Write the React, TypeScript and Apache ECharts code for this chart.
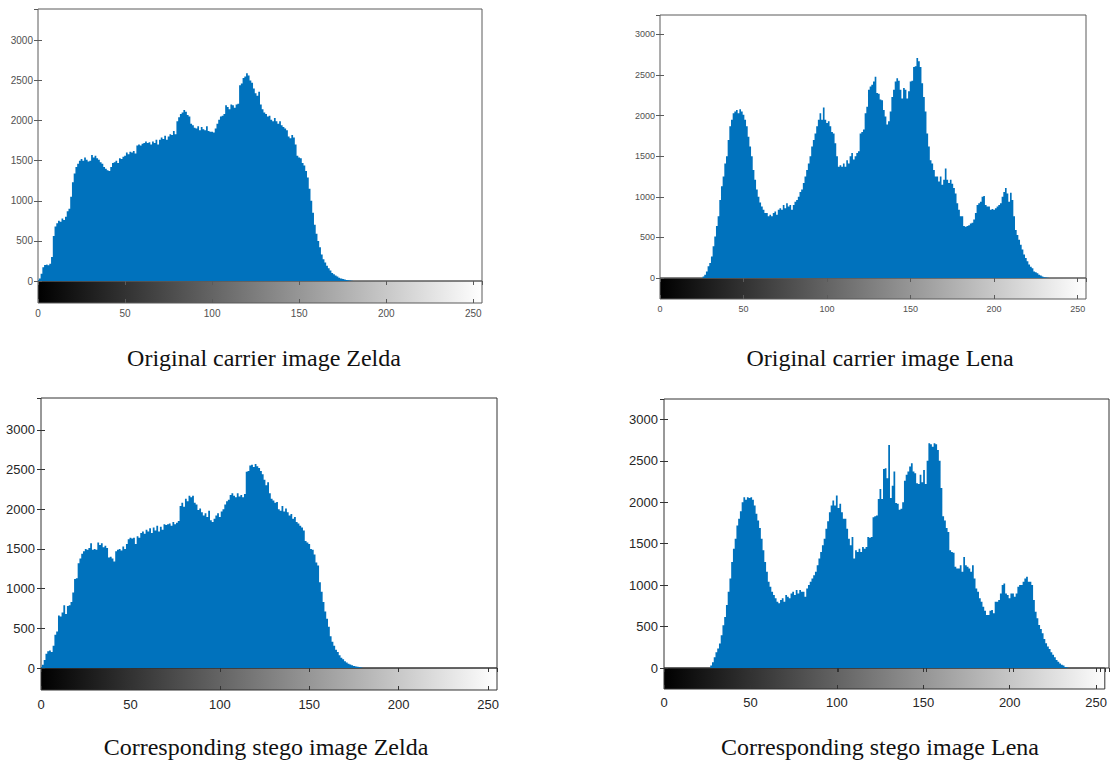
import React, { useEffect, useRef } from "react";
import * as echarts from "echarts";

// Bin index (grey level) for each histogram bar
const BINS: number[] = [
  0, 1, 2, 3, 4, 5, 6, 7, 8, 9, 10, 11, 12, 13, 14, 15, 16, 17, 18, 19, 20, 21, 22, 23, 24, 25, 26, 27, 28, 29, 30, 31,
  32, 33, 34, 35, 36, 37, 38, 39, 40, 41, 42, 43, 44, 45, 46, 47, 48, 49, 50, 51, 52, 53, 54, 55, 56, 57, 58, 59, 60, 61, 62, 63,
  64, 65, 66, 67, 68, 69, 70, 71, 72, 73, 74, 75, 76, 77, 78, 79, 80, 81, 82, 83, 84, 85, 86, 87, 88, 89, 90, 91, 92, 93, 94, 95,
  96, 97, 98, 99, 100, 101, 102, 103, 104, 105, 106, 107, 108, 109, 110, 111, 112, 113, 114, 115, 116, 117, 118, 119, 120, 121, 122, 123, 124, 125, 126, 127,
  128, 129, 130, 131, 132, 133, 134, 135, 136, 137, 138, 139, 140, 141, 142, 143, 144, 145, 146, 147, 148, 149, 150, 151, 152, 153, 154, 155, 156, 157, 158, 159,
  160, 161, 162, 163, 164, 165, 166, 167, 168, 169, 170, 171, 172, 173, 174, 175, 176, 177, 178, 179, 180, 181, 182, 183, 184, 185, 186, 187, 188, 189, 190, 191,
  192, 193, 194, 195, 196, 197, 198, 199, 200, 201, 202, 203, 204, 205, 206, 207, 208, 209, 210, 211, 212, 213, 214, 215, 216, 217, 218, 219, 220, 221, 222, 223,
  224, 225, 226, 227, 228, 229, 230, 231, 232, 233, 234, 235, 236, 237, 238, 239, 240, 241, 242, 243, 244, 245, 246, 247, 248, 249, 250, 251, 252, 253, 254, 255,
];

const zeldaOriginal: number[] = [
  10, 30, 90, 170, 200, 205, 195, 215, 300, 560, 680, 720, 750, 740, 780, 760,
  800, 870, 900, 1050, 1230, 1340, 1420, 1460, 1500, 1520, 1500, 1540, 1510, 1490, 1500, 1570,
  1540, 1560, 1530, 1510, 1480, 1460, 1420, 1400, 1380, 1370, 1420, 1470, 1480, 1500, 1470, 1530,
  1520, 1550, 1560, 1600, 1580, 1610, 1600, 1620, 1590, 1690, 1700, 1690, 1710, 1720, 1740, 1720,
  1730, 1700, 1740, 1720, 1760, 1700, 1760, 1790, 1770, 1810, 1760, 1800, 1830, 1820, 1870, 1830,
  1990, 2040, 2080, 2100, 2130, 2110, 2070, 2050, 1960, 1940, 1910, 1900, 1930, 1880, 1920, 1890,
  1880, 1930, 1870, 1860, 1860, 1850, 1900, 1960, 2010, 2050, 2060, 2080, 2190, 2170, 2140, 2200,
  2190, 2160, 2200, 2210, 2440, 2460, 2530, 2550, 2590, 2560, 2500, 2470, 2400, 2340, 2310, 2360,
  2200, 2140, 2100, 2080, 2050, 2060, 2010, 1990, 2030, 1990, 1960, 1990, 1940, 1920, 1900, 1880,
  1800, 1780, 1820, 1790, 1700, 1560, 1540, 1530, 1470, 1440, 1370, 1290, 1150, 1000, 850, 700,
  590, 500, 420, 330, 270, 230, 190, 160, 130, 100, 85, 70, 55, 40, 30, 25,
  18, 12, 8, 5, 3, 0, 0, 0, 0, 0, 0, 0, 0, 0, 0, 0,
  0, 0, 0, 0, 0, 0, 0, 0, 0, 0, 0, 0, 0, 0, 0, 0,
  0, 0, 0, 0, 0, 0, 0, 0, 0, 0, 0, 0, 0, 0, 0, 0,
  0, 0, 0, 0, 0, 0, 0, 0, 0, 0, 0, 0, 0, 0, 0, 0,
  0, 0, 0, 0, 0, 0, 0, 0, 0, 0, 0, 0, 0, 0, 0, 0,
];

const lenaOriginal: number[] = [
  0, 0, 0, 0, 0, 0, 0, 0, 0, 0, 0, 0, 0, 0, 0, 0,
  0, 0, 0, 0, 0, 0, 0, 0, 0, 0, 20, 40, 80, 145, 185, 265,
  390, 510, 640, 760, 960, 1130, 1250, 1410, 1500, 1700, 1870, 1950, 2030, 2050, 2070, 2030,
  2080, 2050, 2010, 1950, 1870, 1740, 1620, 1500, 1330, 1210, 1090, 1000, 930, 880, 840, 800,
  800, 760, 780, 760, 800, 820, 780, 840, 860, 840, 900, 860, 920, 880, 900, 840,
  900, 940, 960, 1000, 1060, 1090, 1170, 1250, 1330, 1410, 1500, 1620, 1700, 1780, 1870, 1950,
  2030, 1950, 2100, 1950, 1910, 1930, 1870, 1800, 1780, 1660, 1500, 1370, 1390, 1370, 1410, 1370,
  1450, 1410, 1500, 1540, 1460, 1500, 1540, 1560, 1780, 1800, 1830, 2030, 2110, 2320, 2360, 2380,
  2420, 2480, 2280, 2270, 2200, 2190, 2070, 1990, 1890, 1930, 2050, 2230, 2320, 2420, 2460, 2430,
  2320, 2210, 2340, 2320, 2210, 2300, 2420, 2430, 2600, 2610, 2710, 2670, 2600, 2400, 2230, 2050,
  1780, 1620, 1450, 1410, 1330, 1250, 1250, 1190, 1250, 1150, 1210, 1350, 1210, 1170, 1210, 1160,
  1110, 1040, 920, 840, 760, 760, 640, 630, 640, 650, 670, 680, 720, 800, 900, 920,
  940, 1000, 1010, 900, 880, 880, 840, 850, 840, 860, 880, 900, 920, 1000, 1060, 1110,
  1040, 940, 1050, 960, 760, 590, 530, 470, 410, 350, 290, 245, 205, 165, 140, 120,
  80, 70, 60, 40, 30, 20, 10, 6, 4, 0, 0, 0, 0, 0, 0, 0,
  0, 0, 0, 0, 0, 0, 0, 0, 0, 0, 0, 0, 0, 0, 0, 0,
];

const zeldaStego: number[] = [
  10, 40, 100, 180, 210, 220, 200, 280, 420, 460, 660, 650, 700, 790, 680, 780,
  790, 830, 950, 1120, 1130, 1320, 1380, 1440, 1470, 1500, 1490, 1510, 1570, 1490, 1500, 1490,
  1580, 1550, 1570, 1520, 1540, 1510, 1390, 1400, 1380, 1340, 1470, 1490, 1500, 1480, 1530, 1500,
  1560, 1620, 1640, 1630, 1640, 1560, 1660, 1640, 1700, 1720, 1690, 1740, 1720, 1760, 1700, 1770,
  1730, 1790, 1720, 1780, 1740, 1810, 1800, 1810, 1820, 1790, 1840, 1810, 1830, 1850, 2040, 2080,
  2030, 2130, 2100, 2170, 2150, 2170, 2080, 2060, 1990, 2010, 1960, 1920, 1950, 1900, 1980, 1860,
  1840, 1880, 1920, 1950, 1900, 1970, 2000, 2060, 2100, 2120, 2180, 2200, 2170, 2150, 2200, 2160,
  2180, 2150, 2190, 2470, 2480, 2550, 2560, 2530, 2570, 2540, 2520, 2480, 2440, 2370, 2300, 2340,
  2200, 2130, 2110, 2080, 2090, 2000, 1980, 2040, 1970, 2010, 1960, 1920, 1940, 1880, 1900, 1840,
  1820, 1790, 1770, 1730, 1600, 1580, 1560, 1500, 1490, 1430, 1330, 1290, 1080, 960, 830, 710,
  620, 520, 400, 330, 280, 230, 200, 160, 130, 110, 85, 70, 55, 45, 35, 25,
  20, 15, 10, 5, 0, 0, 0, 0, 0, 0, 0, 0, 0, 0, 0, 0,
  0, 0, 0, 0, 0, 0, 0, 0, 0, 0, 0, 0, 0, 0, 0, 0,
  0, 0, 0, 0, 0, 0, 0, 0, 0, 0, 0, 0, 0, 0, 0, 0,
  0, 0, 0, 0, 0, 0, 0, 0, 0, 0, 0, 0, 0, 0, 0, 0,
  0, 0, 0, 0, 0, 0, 0, 0, 0, 0, 0, 0, 0, 0, 0, 0,
];

const lenaStego: number[] = [
  0, 0, 0, 0, 0, 0, 0, 0, 0, 0, 0, 0, 0, 0, 0, 0,
  0, 0, 0, 0, 0, 0, 0, 0, 0, 0, 0, 30, 70, 130, 190, 235,
  295, 395, 515, 615, 760, 920, 1080, 1280, 1440, 1560, 1720, 1800, 1890, 2000, 2060, 2030,
  2060, 2050, 2060, 2030, 1960, 1860, 1780, 1690, 1560, 1420, 1280, 1160, 1040, 980, 920, 880,
  840, 800, 780, 820, 840, 800, 880, 860, 840, 900, 920, 880, 940, 900, 940, 920,
  920, 860, 960, 1000, 1040, 1080, 1120, 1160, 1240, 1320, 1400, 1480, 1560, 1680, 1770, 1880,
  1960, 2020, 1960, 2080, 1930, 1980, 1880, 1800, 1800, 1680, 1560, 1480, 1580, 1320, 1420, 1400,
  1440, 1400, 1460, 1440, 1460, 1580, 1570, 1580, 1820, 1830, 1840, 2040, 2160, 2040, 2400, 2410,
  2290, 2690, 2050, 2200, 2370, 1990, 1980, 1910, 1920, 2000, 2260, 2330, 2370, 2430, 2470, 2370,
  2350, 2230, 2220, 2330, 2240, 2390, 2220, 2500, 2710, 2700, 2670, 2710, 2700, 2630, 2500, 2170,
  1830, 1780, 1690, 1640, 1420, 1400, 1390, 1220, 1200, 1200, 1240, 1160, 1340, 1240, 1220, 1200,
  1160, 1240, 1080, 960, 920, 840, 800, 740, 690, 640, 640, 690, 700, 660, 800, 800,
  820, 900, 1000, 1020, 900, 880, 840, 900, 900, 860, 900, 980, 1000, 1000, 1040, 1080,
  1100, 1040, 1040, 1000, 820, 680, 600, 520, 470, 420, 350, 300, 260, 230, 190, 160,
  130, 95, 75, 55, 40, 30, 12, 5, 0, 0, 0, 0, 0, 0, 0, 0,
  0, 0, 0, 0, 0, 0, 0, 0, 0, 0, 0, 0, 0, 0, 0, 0,
];

const CAPTIONS: string[] = [
  "Original carrier image Zelda",
  "Original carrier image Lena",
  "Corresponding stego image Zelda",
  "Corresponding stego image Lena",
];

const X_MIN = 0;
const X_MAX = 255;
const X_INTERVAL = 50;
const Y_INTERVAL = 500;

const BAR_COLOR = "#0072BD";
const SANS = '"Liberation Sans", Arial, Helvetica, sans-serif';
const SERIF = '"Liberation Serif", "Times New Roman", serif';

const PANELS = [
  {
    values: zeldaOriginal, caption: CAPTIONS[0],
    left: 38, right: 482, top: 9, y0: 281, cbBottom: 303, yMax: 3390,
    tickFont: 10, labelColor: "#505050", lineColor: "#5a5a5a", xMargin: 5, yMargin: 5,
    capX: 264, capTop: 346, capSize: 24,
  },
  {
    values: lenaOriginal, caption: CAPTIONS[1],
    left: 660, right: 1086, top: 15, y0: 278, cbBottom: 299, yMax: 3240,
    tickFont: 9, labelColor: "#505050", lineColor: "#5a5a5a", xMargin: 5, yMargin: 5,
    capX: 880, capTop: 346, capSize: 24,
  },
  {
    values: zeldaStego, caption: CAPTIONS[2],
    left: 41, right: 497, top: 398, y0: 668, cbBottom: 690, yMax: 3400,
    tickFont: 13, labelColor: "#262626", lineColor: "#333333", xMargin: 8, yMargin: 6,
    capX: 266, capTop: 735, capSize: 24,
  },
  {
    values: lenaStego, caption: CAPTIONS[3],
    left: 664, right: 1109, top: 399, y0: 668, cbBottom: 689, yMax: 3245,
    tickFont: 13, labelColor: "#262626", lineColor: "#333333", xMargin: 7, yMargin: 6,
    capX: 880, capTop: 735, capSize: 24,
  },
];

const plain = (v: number) => String(v);

export default function App() {
  const ref = useRef<HTMLDivElement>(null);

  useEffect(() => {
    if (!ref.current) return;
    const chart = echarts.init(ref.current, null, { renderer: "svg" });

    const grid: any[] = [];
    const xAxis: any[] = [];
    const yAxis: any[] = [];
    const series: any[] = [];
    const graphic: any[] = [];
    const title: any[] = [];

    PANELS.forEach((p) => {
      const w = p.right - p.left;
      const hg = grid.length;
      grid.push({
        left: p.left, top: p.top, width: w, height: p.y0 - p.top,
        show: true, borderColor: p.lineColor, borderWidth: 1, backgroundColor: "transparent",
      });
      const cg = grid.length;
      grid.push({
        left: p.left, top: p.y0, width: w, height: p.cbBottom - p.y0,
        show: true, borderColor: p.lineColor, borderWidth: 1, backgroundColor: "transparent",
      });

      const tick = { show: true, inside: true, length: 4, lineStyle: { color: p.lineColor, width: 1 } };
      const baseX = {
        type: "value", min: X_MIN, max: X_MAX, interval: X_INTERVAL,
        axisLine: { show: false }, splitLine: { show: false },
      };

      const hx = xAxis.length;
      xAxis.push({ ...baseX, gridIndex: hg, position: "bottom", axisTick: { show: false }, axisLabel: { show: false } });
      xAxis.push({ ...baseX, gridIndex: hg, position: "top", axisTick: tick, axisLabel: { show: false } });
      xAxis.push({
        ...baseX, gridIndex: cg, position: "bottom", axisTick: tick,
        axisLabel: {
          show: true, margin: p.xMargin, fontSize: p.tickFont, color: p.labelColor,
          fontFamily: SANS, showMaxLabel: false, showMinLabel: true, formatter: plain,
        },
      });
      xAxis.push({ ...baseX, gridIndex: cg, position: "top", axisTick: tick, axisLabel: { show: false } });

      const hy = yAxis.length;
      yAxis.push({
        type: "value", gridIndex: hg, position: "left", min: 0, max: p.yMax, interval: Y_INTERVAL,
        axisLine: { show: false }, splitLine: { show: false }, axisTick: tick,
        axisLabel: {
          show: true, margin: p.yMargin, fontSize: p.tickFont, color: p.labelColor,
          fontFamily: SANS, showMaxLabel: false, formatter: plain,
        },
      });
      yAxis.push({
        type: "value", gridIndex: hg, position: "right", min: 0, max: p.yMax, interval: Y_INTERVAL,
        axisLine: { show: false }, splitLine: { show: false }, axisTick: tick, axisLabel: { show: false },
      });
      yAxis.push({ type: "value", gridIndex: cg, min: 0, max: 1, show: false });

      series.push({
        type: "line",
        name: p.caption,
        xAxisIndex: hx,
        yAxisIndex: hy,
        step: "middle",
        symbol: "none",
        silent: true,
        data: BINS.map((b, k) => [b, p.values[k]]),
        lineStyle: { color: BAR_COLOR, width: 0, opacity: 0 },
        areaStyle: { color: BAR_COLOR, opacity: 1 },
        z: 2,
      });

      graphic.push({
        type: "rect",
        z: -1,
        silent: true,
        shape: { x: p.left, y: p.y0, width: w, height: p.cbBottom - p.y0 },
        style: {
          fill: {
            type: "linear", x: 0, y: 0, x2: 1, y2: 0,
            colorStops: [
              { offset: 0, color: "#000000" },
              { offset: 1, color: "#ffffff" },
            ],
          },
        },
      });

      title.push({
        text: p.caption,
        left: p.capX,
        top: p.capTop,
        textAlign: "center",
        padding: 0,
        textStyle: { fontFamily: SERIF, fontSize: p.capSize, fontWeight: "normal", color: "#111111" },
      });
    });

    chart.setOption({
      animation: false,
      backgroundColor: "#ffffff",
      title,
      grid,
      xAxis,
      yAxis,
      series,
      graphic,
    });

    return () => chart.dispose();
  }, []);

  return (
    <div
      ref={ref}
      style={{ position: "absolute", left: 0, top: 0, width: 1110, height: 763 }}
    />
  );
}
